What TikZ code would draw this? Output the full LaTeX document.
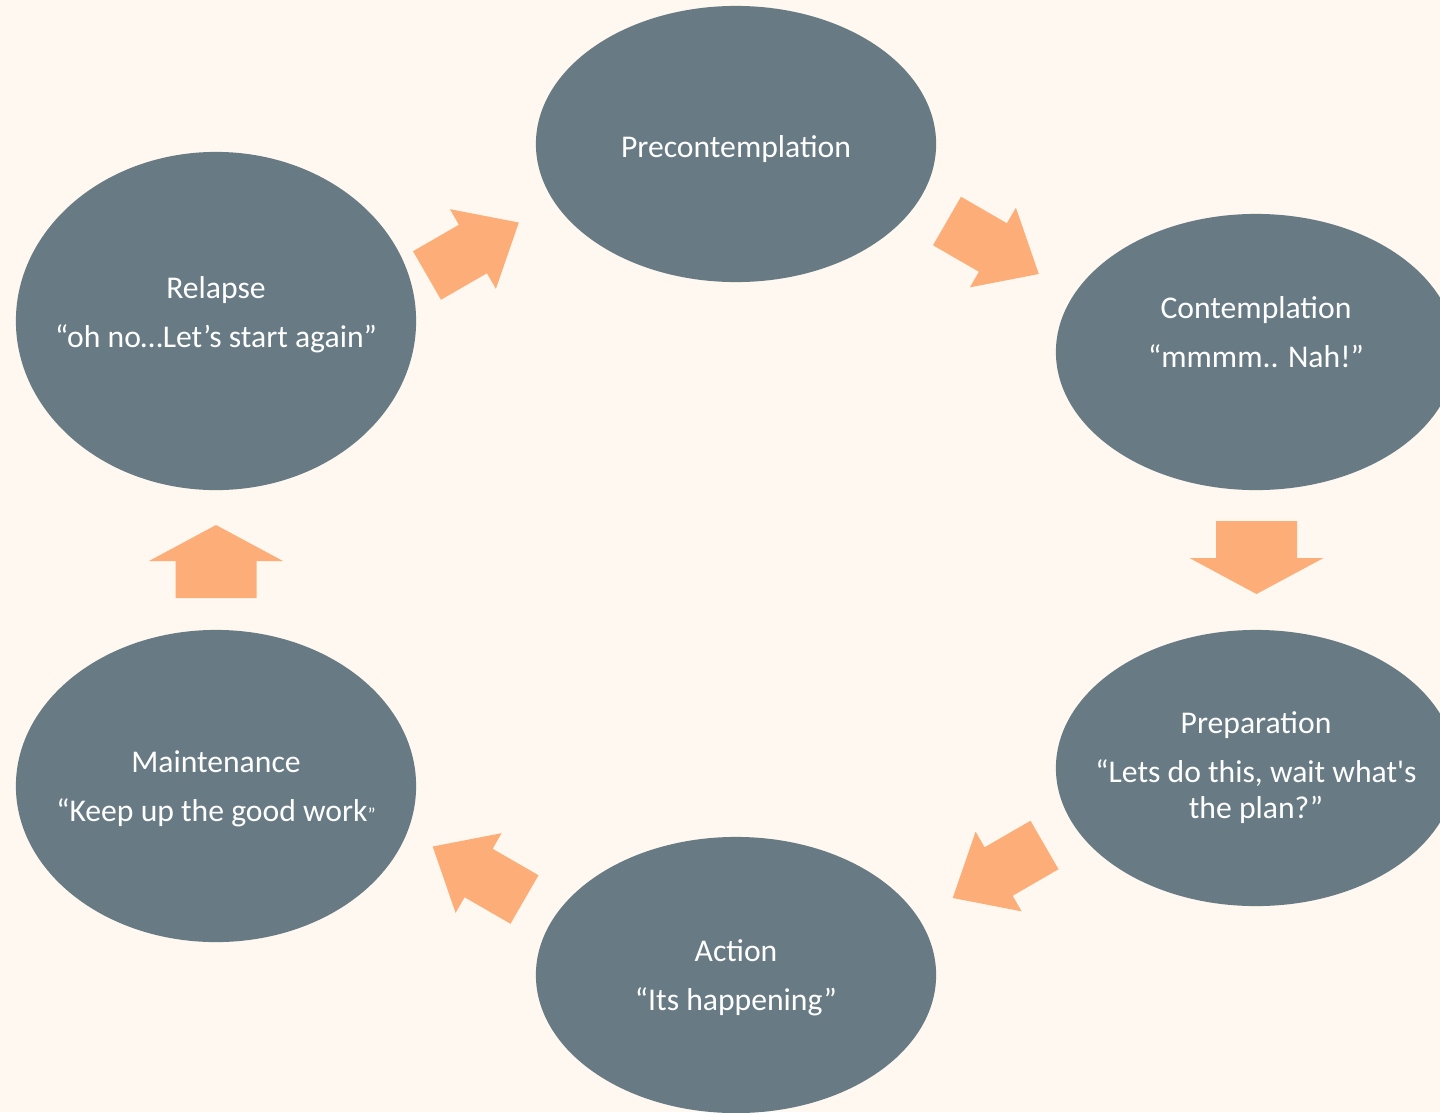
\documentclass[tikz,border=0pt]{standalone}
\usepackage{fontspec}
\setmainfont{Carlito}
\usepackage{xcolor}
\usetikzlibrary{shapes.geometric, calc}

\definecolor{cream}{HTML}{FEF8F0}
\definecolor{slate}{HTML}{687B84}
\definecolor{peach}{HTML}{FCAD78}

\begin{document}
\begin{tikzpicture}[
        x=0.01cm, y=-0.01cm,
        stage/.style={
            ellipse,
            fill=slate,
            inner sep=0pt,
            minimum width=4cm,
            minimum height=2.76cm
        },
        stagetext/.style={
            anchor=base,
            align=center,
            text=white,
            inner sep=0pt,
            font=\fontsize{9}{10}\selectfont
        },
        diagarrow/.pic={
            \fill[peach] (0,-28) -- (53,-28) -- (53,-46) -- (106,0)
                -- (53,46) -- (53,28) -- (0,28) -- cycle;
        },
        vertarrow/.pic={
            \fill[peach] (0,-40.5) -- (37,-40.5) -- (37,-67) -- (73,0)
                -- (37,67) -- (37,40.5) -- (0,40.5) -- cycle;
        }
    ]
        \useasboundingbox (0,0) rectangle (1440,1112);
        \fill[cream] (0,0) rectangle (1440,1112);
        \clip (0,0) rectangle (1440,1112);

        % the six stages
        \node[stage] (pre) at (736,144) {};
        \node[stage] (cont) at (1256,352) {};
        \node[stage] (prep) at (1256,768) {};
        \node[stage] (act) at (736,975) {};
        \node[stage, minimum height=3.12cm] (main) at (216,786) {};
        \node[stage, minimum height=3.38cm] (rel) at (216,321) {};

        % text sits on the baseline of its last line
        \node[stagetext] (pretxt) at ($(pre)+(0,13)$) {Precontemplation};
        \node[stagetext] (conttxt) at ($(cont)+(0,15)$) {Contemplation\\[3.9pt]“mmmm.. Nah!”};
        \node[stagetext] (preptxt) at ($(prep)+(0,50)$) {Preparation\\[3.9pt]“Lets do this, wait what\textquotesingle s\\the plan?”};
        \node[stagetext] (acttxt) at ($(act)+(0,35)$) {Action\\[3.9pt]“Its happening”};
        \node[stagetext] (maintxt) at ($(main)+(0,35)$) {Maintenance\\[3.9pt]“Keep up the good work{\fontsize{5.5}{6}\selectfont ”}};
        \node[stagetext] (reltxt) at ($(rel)+(0,26)$) {Relapse\\[3.9pt]“oh no…Let’s start again”};

        % block arrows round the cycle
        \coordinate (relpre) at (427,275.5);
        \coordinate (precont) at (947,221);
        \coordinate (contprep) at (1256.5,521);
        \coordinate (prepact) at (1044.5,845);
        \coordinate (actmain) at (524.5,899.5);
        \coordinate (mainrel) at (216,598);

        \pic[rotate=30] at (relpre) {diagarrow};
        \pic[rotate=-30] at (precont) {diagarrow};
        \pic[rotate=-90] at (contprep) {vertarrow};
        \pic[rotate=210] at (prepact) {diagarrow};
        \pic[rotate=150] at (actmain) {diagarrow};
        \pic[rotate=90] at (mainrel) {vertarrow};
    \end{tikzpicture}
\end{document}
